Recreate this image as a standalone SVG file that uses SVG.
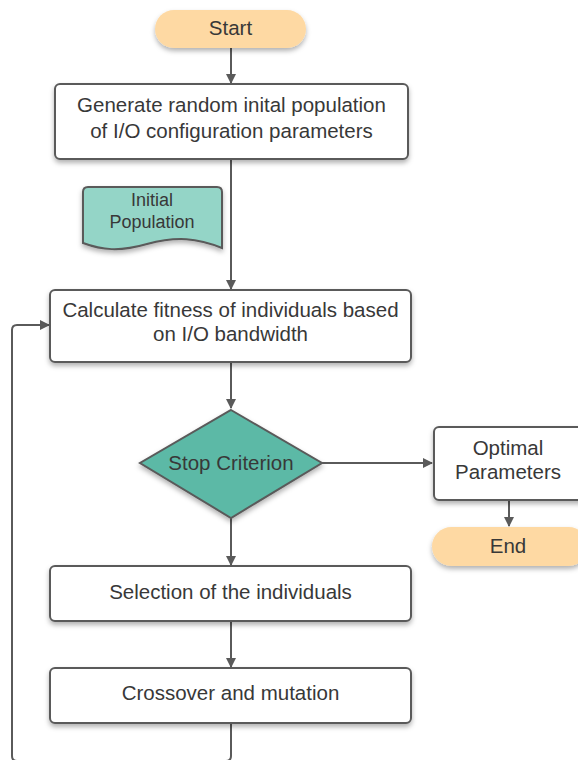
<svg xmlns="http://www.w3.org/2000/svg" width="578" height="760" viewBox="0 0 578 760">
<defs>
<filter id="sh" x="-10%" y="-20%" width="120%" height="150%">
<feDropShadow dx="0" dy="3" stdDeviation="2.5" flood-color="#000" flood-opacity="0.3"/>
</filter>
<marker id="ah" markerWidth="10" markerHeight="10" refX="9" refY="5" orient="auto" markerUnits="userSpaceOnUse">
<path d="M0,0 L10,5 L0,10 z" fill="#5a5a5a"/>
</marker>
<style>
.box{fill:#fff;stroke:#5a5a5a;stroke-width:2;filter:url(#sh)}
.term{fill:#fed9a3;stroke:none;filter:url(#sh)}
.doc{fill:#94d5c7;stroke:#5a5a5a;stroke-width:2;filter:url(#sh)}
.dia{fill:#5bb9a6;stroke:#5a5a5a;stroke-width:2;filter:url(#sh)}
.t{font-family:"Liberation Sans",Arial,sans-serif;font-size:20.5px;fill:#383838;text-anchor:middle;dominant-baseline:central}
.ts{font-family:"Liberation Sans",Arial,sans-serif;font-size:18px;fill:#383838;text-anchor:middle;dominant-baseline:central}
.c{fill:none;stroke:#5a5a5a;stroke-width:2}
</style>
</defs>
<g id="connectors">
<line class="c" x1="231" y1="48" x2="231" y2="83" marker-end="url(#ah)"/>
<line class="c" x1="231" y1="159" x2="231" y2="289" marker-end="url(#ah)"/>
<line class="c" x1="231" y1="362" x2="231" y2="408" marker-end="url(#ah)"/>
<line class="c" x1="322" y1="463" x2="432" y2="463" marker-end="url(#ah)"/>
<line class="c" x1="509" y1="500" x2="509" y2="526" marker-end="url(#ah)"/>
<line class="c" x1="231" y1="518" x2="231" y2="565" marker-end="url(#ah)"/>
<line class="c" x1="231" y1="621" x2="231" y2="667" marker-end="url(#ah)"/>
<path class="c" d="M231,723 V756 q0,5 -5,5 H17 q-5,0 -5,-5 V330 q0,-5 5,-5 H49" marker-end="url(#ah)"/>
</g>
<g id="start">
<rect class="term" x="155" y="10" width="151" height="38" rx="19"/>
<text class="t" x="230.5" y="27">Start</text>
</g>
<g id="generate">
<rect class="box" x="55" y="84" width="353" height="75" rx="5"/>
<text class="t" x="231.5" y="104">Generate random inital population</text>
<text class="t" x="231.5" y="130">of I/O configuration parameters</text>
</g>
<g id="initial-population">
<path class="doc" d="M83,192 q0,-5 5,-5 h129 q5,0 5,5 v56 c-25,-10 -45,-12 -75,-4 c-28,8 -45,6 -64,-1 z"/>
<text class="ts" x="152" y="200">Initial</text>
<text class="ts" x="152" y="222">Population</text>
</g>
<g id="fitness">
<rect class="box" x="50" y="290" width="361" height="72" rx="5"/>
<text class="t" x="230.5" y="309">Calculate fitness of individuals based</text>
<text class="t" x="230.5" y="333">on I/O bandwidth</text>
</g>
<g id="stop">
<path class="dia" d="M231,410 L322,463 L231,518 L140,463 z"/>
<text class="t" x="231" y="462">Stop Criterion</text>
</g>
<g id="optimal">
<rect class="box" x="434" y="427" width="154" height="73" rx="5"/>
<text class="t" x="508" y="447">Optimal</text>
<text class="t" x="508" y="471">Parameters</text>
</g>
<g id="end">
<rect class="term" x="432" y="527" width="156" height="39" rx="19.5"/>
<text class="t" x="508" y="545">End</text>
</g>
<g id="selection">
<rect class="box" x="50" y="566" width="361" height="55" rx="5"/>
<text class="t" x="230.5" y="591">Selection of the individuals</text>
</g>
<g id="crossover">
<rect class="box" x="50" y="668" width="361" height="55" rx="5"/>
<text class="t" x="230.5" y="692">Crossover and mutation</text>
</g>
</svg>
